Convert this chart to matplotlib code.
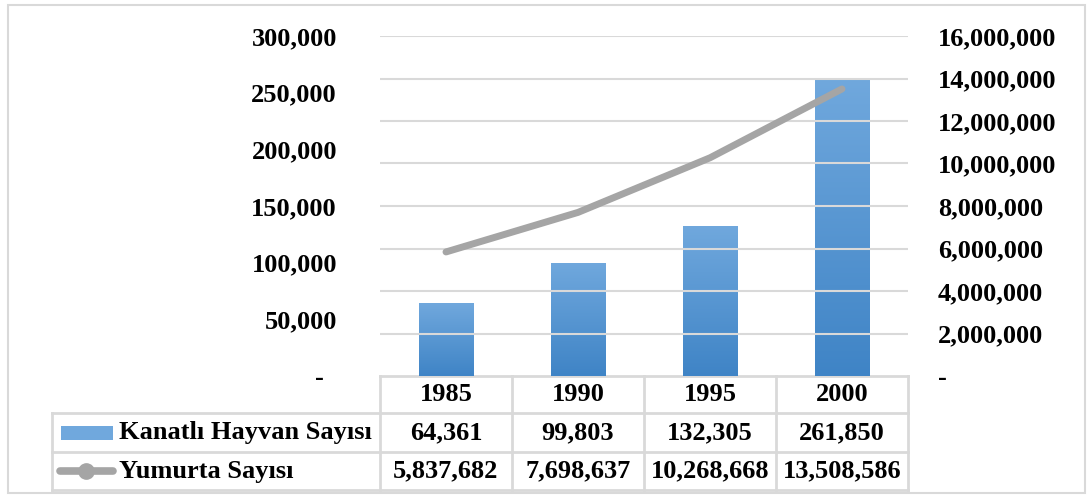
import matplotlib
matplotlib.use("Agg")
import matplotlib.pyplot as plt
import numpy as np
from matplotlib.colors import LinearSegmentedColormap
from matplotlib.patches import Rectangle
from matplotlib.lines import Line2D

years = ["1985", "1990", "1995", "2000"]
kanatli = [64361, 99803, 132305, 261850]
yumurta = [5837682, 7698637, 10268668, 13508586]
left_ticks = [0, 50000, 100000, 150000, 200000, 250000, 300000]
right_ticks = [0, 2000000, 4000000, 6000000, 8000000, 10000000, 12000000, 14000000, 16000000]
series_names = ["Kanatlı Hayvan Sayısı", "Yumurta Sayısı"]

W, H = 1090, 498
PL, PR, PT, PB = 380, 908, 36, 376  # plot area in pixels
FONT = dict(family="Liberation Serif", weight="bold", size=19)
GRID = "#d9d9d9"
BAR_TOP, BAR_BOT = "#70a8dd", "#3f84c6"
LINE_C = "#a5a5a5"


def fmt(v, dash="-"):
    return dash if v == 0 else f"{v:,.0f}"


fig = plt.figure(figsize=(W / 100, H / 100), dpi=100)

# overlay in pixel coordinates for border and the data table
tab = fig.add_axes([0, 0, 1, 1], zorder=0)
tab.set_xlim(0, W)
tab.set_ylim(H, 0)
tab.axis("off")
tab.add_patch(Rectangle((8, 5), 1077, 488, fill=False, edgecolor=GRID, lw=1.5))

ax = fig.add_axes([PL / W, (H - PB) / H, (PR - PL) / W, (PB - PT) / H], zorder=2)
ax.patch.set_alpha(0)
ax2 = ax.twinx()
x = np.arange(len(years))

bars = ax.bar(x, kanatli, width=0.41, color=BAR_BOT, zorder=2)
cmap = LinearSegmentedColormap.from_list("bar", [BAR_BOT, BAR_TOP])
grad = np.linspace(0, 1, 256).reshape(-1, 1)
for b in bars:
    im = ax.imshow(grad, cmap=cmap, origin="lower", aspect="auto", zorder=3,
                   extent=[b.get_x(), b.get_x() + b.get_width(), 0, b.get_height()])
    im.set_clip_path(b)

ax2.plot(x, yumurta, color=LINE_C, lw=5, solid_capstyle="round", zorder=4)

ax.set_xlim(-0.5, len(years) - 0.5)
ax.set_ylim(0, 300000)
ax2.set_ylim(0, 16000000)
ax.set_yticks(left_ticks)
ax.set_yticklabels([fmt(v, "-  ") for v in left_ticks], fontdict=FONT)
ax2.set_yticks(right_ticks)
ax2.set_yticklabels([fmt(v) for v in right_ticks], fontdict=FONT)
ax.set_xticks([])
ax.tick_params(axis="y", length=0, pad=31)
ax2.tick_params(axis="y", length=0, pad=21.5)
for a in (ax, ax2):
    for s in a.spines.values():
        s.set_visible(False)
for t in right_ticks[1:]:
    ax2.axhline(t, color=GRID, lw=1.5, zorder=0)

# data table below the plot
col_w = (PR - PL) / len(years)
rows_y = [PB, 413, 452, 490]
lkw = dict(color=GRID, lw=2)
tab.add_line(Line2D([PL, PR], [PB, PB], **lkw))
for yy in rows_y[1:]:
    tab.add_line(Line2D([52, PR], [yy, yy], **lkw))
tab.add_line(Line2D([52, 52], [rows_y[1], rows_y[3]], **lkw))
for i in range(len(years) + 1):
    xx = PL + i * col_w
    tab.add_line(Line2D([xx, xx], [PB, rows_y[3]], **lkw))

for i, yr in enumerate(years):
    cx = PL + (i + 0.5) * col_w
    tab.text(cx, (rows_y[0] + rows_y[1]) / 2, yr, ha="center", va="center", **FONT)
    tab.text(cx, (rows_y[1] + rows_y[2]) / 2, f"{kanatli[i]:,}", ha="center", va="center", **FONT)
    tab.text(cx, (rows_y[2] + rows_y[3]) / 2, f"{yumurta[i]:,}", ha="center", va="center", **FONT)

# legend keys and row labels
ymid1 = (rows_y[1] + rows_y[2]) / 2
ymid2 = (rows_y[2] + rows_y[3]) / 2
tab.add_patch(Rectangle((61, ymid1 - 7), 52, 14, facecolor=BAR_TOP, edgecolor="none"))
tab.add_line(Line2D([60, 113], [ymid2, ymid2], color=LINE_C, lw=5.5, solid_capstyle="round"))
tab.add_line(Line2D([86], [ymid2], color=LINE_C, marker="o", markersize=11, lw=0))
tab.text(119, ymid1, series_names[0], ha="left", va="center", **FONT)
tab.text(119, ymid2, series_names[1], ha="left", va="center", **FONT)

fig.savefig("out.png", dpi=100)
